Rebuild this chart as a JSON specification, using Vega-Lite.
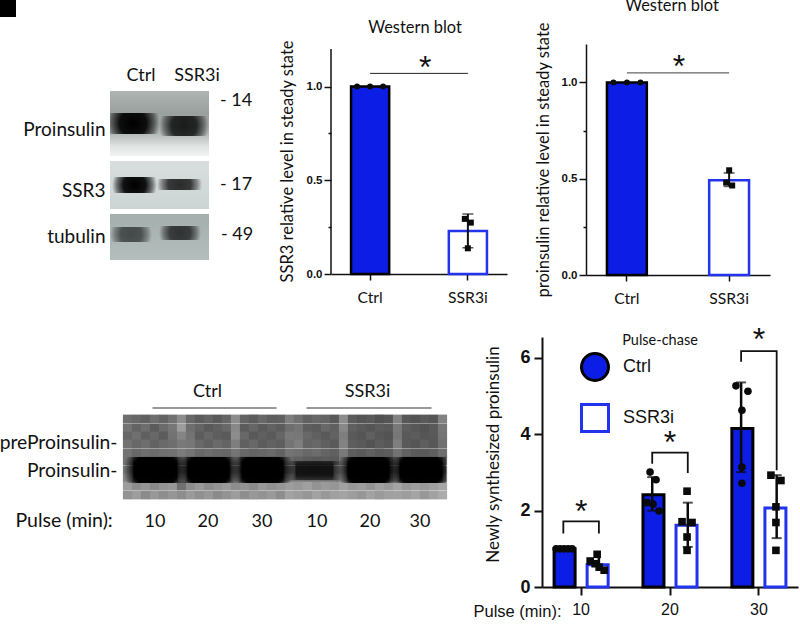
{"$schema":"https://vega.github.io/schema/vega-lite/v6.json","autosize":{"type":"none"},"padding":{"left":110,"top":44,"right":690,"bottom":581},"background":"white","config":{"view":{"stroke":null},"axis":{"grid":false,"labelColor":"#111","titleColor":"#111","domainColor":"#111","tickColor":"#111"},"text":{"color":"#111"}},"spacing":17,"resolve":{"scale":{"fill":"independent","stroke":"independent","shape":"independent"}},"vconcat":[{"bounds":"flush","spacing":0,"resolve":{"scale":{"fill":"independent","stroke":"independent","shape":"independent"}},"hconcat":[{"width":99,"height":216,"layer":[{"data":{"values":[{"blot":"Proinsulin","a":0,"b":99,"t":-1,"u":64}]},"mark":{"type":"rect","color":{"gradient":"linear","x1":0,"y1":0,"x2":0,"y2":1,"stops":[{"offset":0,"color":"#aeb4b2"},{"offset":0.35,"color":"#9aa09e"},{"offset":0.65,"color":"#b2b8b6"},{"offset":0.85,"color":"#dfe3e1"},{"offset":1,"color":"#f1f3f2"}]}},"encoding":{"x":{"field":"a","type":"quantitative","scale":{"domain":[0,99],"nice":false},"axis":{"values":[],"domain":false,"ticks":false,"labels":false,"title":null}},"x2":{"field":"b"},"y":{"field":"t","type":"quantitative","scale":{"domain":[-48,168],"reverse":true,"nice":false},"axis":{"values":[37,98,144],"labelExpr":"datum.value==37?'Proinsulin':datum.value==98?'SSR3':'tubulin'","domain":false,"ticks":false,"title":null,"labelFont":"Lato","labelFontSize":19,"labelPadding":5}},"y2":{"field":"u"}}},{"data":{"values":[{"blot":"SSR3","a":0,"b":99,"t":69,"u":117}]},"mark":{"type":"rect","color":{"gradient":"linear","x1":0,"y1":0,"x2":0,"y2":1,"stops":[{"offset":0,"color":"#d8dede"},{"offset":1,"color":"#ccd4d4"}]}},"encoding":{"x":{"field":"a","type":"quantitative"},"x2":{"field":"b"},"y":{"field":"t","type":"quantitative"},"y2":{"field":"u"}}},{"data":{"values":[{"blot":"tubulin","a":0,"b":99,"t":122,"u":168}]},"mark":{"type":"rect","color":{"gradient":"linear","x1":0,"y1":0,"x2":0,"y2":1,"stops":[{"offset":0,"color":"#a4aead"},{"offset":1,"color":"#b4bebd"}]}},"encoding":{"x":{"field":"a","type":"quantitative"},"x2":{"field":"b"},"y":{"field":"t","type":"quantitative"},"y2":{"field":"u"}}},{"data":{"values":[{"blot":"Proinsulin","lane":"Ctrl","a":-4,"b":50,"t":21,"u":42,"o":1},{"blot":"Proinsulin","lane":"SSR3i","a":49,"b":99,"t":24,"u":44,"o":0.85},{"blot":"SSR3","lane":"Ctrl","a":2,"b":47,"t":85,"u":101,"o":1},{"blot":"SSR3","lane":"SSR3i","a":47,"b":92,"t":87,"u":98,"o":0.8},{"blot":"tubulin","lane":"Ctrl","a":0,"b":42,"t":135,"u":150,"o":0.6},{"blot":"tubulin","lane":"SSR3i","a":49,"b":91,"t":134,"u":148,"o":0.72}]},"mark":{"type":"rect","clip":true,"color":{"gradient":"radial","x1":0.5,"y1":0.5,"r1":0,"x2":0.5,"y2":0.5,"r2":0.5,"stops":[{"offset":0,"color":"rgba(0,0,0,1)"},{"offset":0.5,"color":"rgba(0,0,0,0.92)"},{"offset":0.8,"color":"rgba(0,0,0,0.45)"},{"offset":1,"color":"rgba(0,0,0,0)"}]}},"encoding":{"x":{"field":"a","type":"quantitative"},"x2":{"field":"b"},"y":{"field":"t","type":"quantitative"},"y2":{"field":"u"},"opacity":{"field":"o","type":"quantitative","scale":null}}},{"data":{"values":[{"mw":"- 14","a":110,"t":9},{"mw":"- 17","a":110,"t":93},{"mw":"- 49","a":111,"t":143}]},"mark":{"type":"text","font":"Lato","fontSize":18,"align":"left","baseline":"middle"},"encoding":{"x":{"field":"a","type":"quantitative"},"y":{"field":"t","type":"quantitative"},"text":{"field":"mw"}}},{"data":{"values":[{"lane":"Ctrl","a":31,"t":-16},{"lane":"SSR3i","a":87,"t":-16}]},"mark":{"type":"text","font":"Lato","fontSize":18,"baseline":"middle"},"encoding":{"x":{"field":"a","type":"quantitative"},"y":{"field":"t","type":"quantitative"},"text":{"field":"lane"}}},{"data":{"values":[{"a":-110,"b":-94,"t":-92,"u":-75}]},"mark":{"type":"rect","color":"black"},"encoding":{"x":{"field":"a","type":"quantitative"},"x2":{"field":"b"},"y":{"field":"t","type":"quantitative"},"y2":{"field":"u"}}}]},{"width":122,"height":1,"data":{"values":[]},"mark":{"type":"point","opacity":0},"encoding":{}},{"width":176,"height":230,"title":{"text":"Western blot","font":"Lato","fontWeight":"normal","fontSize":16.4,"dx":-4,"offset":3,"frame":"group","color":"#111"},"layer":[{"data":{"values":[{"group":"Ctrl","level":1.0},{"group":"SSR3i","level":0.23}]},"mark":{"type":"bar","strokeWidth":2.5},"encoding":{"x":{"field":"group","type":"nominal","sort":null,"scale":{"domain":["Ctrl","SSR3i"],"paddingInner":0.61,"paddingOuter":0.205},"axis":{"title":null,"labelAngle":0,"labelFont":"Lato","labelFontSize":15.7,"labelPadding":10,"tickSize":6,"tickWidth":1.5,"domainWidth":1.5}},"y":{"field":"level","type":"quantitative","scale":{"domain":[0,1.2267],"nice":false},"axis":{"title":"SSR3 relative level in steady state","titleFont":"Lato","titleFontSize":16.5,"titleFontWeight":"normal","titlePadding":11,"titleY":117,"domain":false,"values":[0,0.25,0.5,0.75,1],"labelExpr":"datum.value==0.25||datum.value==0.75?'':format(datum.value,'.1f')","labelFont":"Liberation Sans","labelFontWeight":"bold","labelFontSize":11.5,"labelPadding":2,"tickWidth":1.5,"tickSize":{"condition":{"test":"datum.value==0.25||datum.value==0.75","value":3},"value":7}}},"fill":{"field":"group","type":"nominal","scale":{"domain":["Ctrl","SSR3i"],"range":["#0c1ee6","#ffffff"]},"legend":null},"stroke":{"field":"group","type":"nominal","scale":{"domain":["Ctrl","SSR3i"],"range":["#000000","#2233ee"]},"legend":null}}},{"data":{"values":[{"line":"y axis","low":0,"high":1.2}]},"mark":{"type":"rule","color":"#111","strokeWidth":1.5},"encoding":{"x":{"value":0},"y":{"field":"low","type":"quantitative"},"y2":{"field":"high"}}},{"data":{"values":[{"group":"SSR3i","low":0.14,"high":0.32}]},"mark":{"type":"rule","color":"#111","strokeWidth":2},"encoding":{"x":{"field":"group","type":"nominal"},"y":{"field":"low","type":"quantitative"},"y2":{"field":"high"}}},{"data":{"values":[{"group":"SSR3i","cap":0.32},{"group":"SSR3i","cap":0.14}]},"mark":{"type":"tick","color":"#111","thickness":1.5,"size":11},"encoding":{"x":{"field":"group","type":"nominal"},"y":{"field":"cap","type":"quantitative"}}},{"data":{"values":[{"group":"Ctrl","value":1,"dodge":-13},{"group":"Ctrl","value":1,"dodge":0},{"group":"Ctrl","value":1,"dodge":13},{"group":"SSR3i","value":0.294,"dodge":-3},{"group":"SSR3i","value":0.274,"dodge":3},{"group":"SSR3i","value":0.137,"dodge":0}]},"mark":{"type":"point","filled":true,"opacity":1,"color":"#0a0a0a","size":36},"encoding":{"x":{"field":"group","type":"nominal"},"xOffset":{"field":"dodge","type":"quantitative","scale":{"domain":[-40,40],"range":[-21,59]}},"y":{"field":"value","type":"quantitative"},"shape":{"field":"group","type":"nominal","scale":{"domain":["Ctrl","SSR3i"],"range":["circle","square"]},"legend":null}}},{"data":{"values":[{"from":"Ctrl","to":"SSR3i","y":1.07}]},"mark":{"type":"rule","color":"#222","strokeWidth":1},"encoding":{"x":{"field":"from","type":"nominal"},"x2":{"field":"to"},"y":{"field":"y","type":"quantitative"}}},{"data":{"values":[{"from":"Ctrl","y":1.128,"star":"*"}]},"mark":{"type":"text","font":"Liberation Sans","fontSize":32,"dx":55,"dy":5},"encoding":{"x":{"field":"from","type":"nominal"},"y":{"field":"y","type":"quantitative"},"text":{"field":"star"}}}],"resolve":{"scale":{"xOffset":"independent"}}},{"width":79,"height":1,"data":{"values":[]},"mark":{"type":"point","opacity":0},"encoding":{}},{"width":184,"height":231,"title":{"text":"Western blot","font":"Lato","fontWeight":"normal","fontSize":16.4,"dx":-6,"offset":7,"frame":"group","color":"#111"},"layer":[{"data":{"values":[{"group":"Ctrl","level":1.0},{"group":"SSR3i","level":0.492}]},"mark":{"type":"bar","strokeWidth":2.5},"encoding":{"x":{"field":"group","type":"nominal","sort":null,"scale":{"domain":["Ctrl","SSR3i"],"paddingInner":0.61,"paddingOuter":0.205},"axis":{"title":null,"labelAngle":0,"labelFont":"Lato","labelFontSize":15.7,"labelPadding":10,"tickSize":6,"tickWidth":1.5,"domainWidth":1.5}},"y":{"field":"level","type":"quantitative","scale":{"domain":[0,1.2],"nice":false},"axis":{"title":"proinsulin relative level in steady state","titleFont":"Lato","titleFontSize":16.5,"titleFontWeight":"normal","titlePadding":10,"values":[0,0.25,0.5,0.75,1],"labelExpr":"datum.value==0.25||datum.value==0.75?'':format(datum.value,'.1f')","labelFont":"Liberation Sans","labelFontWeight":"bold","labelFontSize":11.5,"labelPadding":2,"tickWidth":1.5,"domainWidth":1.5,"tickSize":{"condition":{"test":"datum.value==0.25||datum.value==0.75","value":3},"value":7}}},"fill":{"field":"group","type":"nominal","scale":{"domain":["Ctrl","SSR3i"],"range":["#0c1ee6","#ffffff"]},"legend":null},"stroke":{"field":"group","type":"nominal","scale":{"domain":["Ctrl","SSR3i"],"range":["#000000","#2233ee"]},"legend":null}}},{"data":{"values":[{"group":"SSR3i","low":0.46,"high":0.53}]},"mark":{"type":"rule","color":"#111","strokeWidth":2},"encoding":{"x":{"field":"group","type":"nominal"},"y":{"field":"low","type":"quantitative"},"y2":{"field":"high"}}},{"data":{"values":[{"group":"SSR3i","cap":0.53},{"group":"SSR3i","cap":0.46}]},"mark":{"type":"tick","color":"#111","thickness":1.5,"size":11},"encoding":{"x":{"field":"group","type":"nominal"},"y":{"field":"cap","type":"quantitative"}}},{"data":{"values":[{"group":"Ctrl","value":1,"dodge":-13.5},{"group":"Ctrl","value":1,"dodge":0},{"group":"Ctrl","value":1,"dodge":13.5},{"group":"SSR3i","value":0.544,"dodge":0},{"group":"SSR3i","value":0.48,"dodge":-3},{"group":"SSR3i","value":0.465,"dodge":3}]},"mark":{"type":"point","filled":true,"opacity":1,"color":"#0a0a0a","size":36},"encoding":{"x":{"field":"group","type":"nominal"},"xOffset":{"field":"dodge","type":"quantitative","scale":{"domain":[-40,40],"range":[-20,60]}},"y":{"field":"value","type":"quantitative"},"shape":{"field":"group","type":"nominal","scale":{"domain":["Ctrl","SSR3i"],"range":["circle","square"]},"legend":null}}},{"data":{"values":[{"from":"Ctrl","to":"SSR3i","y":1.05}]},"mark":{"type":"rule","color":"#666","strokeWidth":1.2},"encoding":{"x":{"field":"from","type":"nominal"},"x2":{"field":"to"},"y":{"field":"y","type":"quantitative"}}},{"data":{"values":[{"from":"Ctrl","y":1.105,"star":"*"}]},"mark":{"type":"text","font":"Liberation Sans","fontSize":32,"dx":52,"dy":5},"encoding":{"x":{"field":"from","type":"nominal"},"y":{"field":"y","type":"quantitative"},"text":{"field":"star"}}}],"resolve":{"scale":{"xOffset":"independent"}}}]},{"bounds":"flush","spacing":0,"resolve":{"scale":{"fill":"independent","stroke":"independent","shape":"independent"}},"hconcat":[{"width":13,"height":1,"data":{"values":[]},"mark":{"type":"point","opacity":0},"encoding":{}},{"width":323,"height":162,"layer":[{"data":{"values":[{"x":4,"m":4,"t":118},{"x":13,"m":4,"t":112},{"x":22,"m":4,"t":105},{"x":31,"m":4,"t":118},{"x":40,"m":4,"t":108},{"x":49,"m":4,"t":122},{"x":58,"m":4,"t":150},{"x":67,"m":4,"t":112},{"x":76,"m":4,"t":100},{"x":85,"m":4,"t":108},{"x":94,"m":4,"t":98},{"x":103,"m":4,"t":110},{"x":112,"m":4,"t":150},{"x":121,"m":4,"t":108},{"x":130,"m":4,"t":100},{"x":139,"m":4,"t":112},{"x":148,"m":4,"t":102},{"x":157,"m":4,"t":104},{"x":166,"m":4,"t":135},{"x":175,"m":4,"t":120},{"x":184,"m":4,"t":105},{"x":193,"m":4,"t":112},{"x":202,"m":4,"t":108},{"x":211,"m":4,"t":96},{"x":220,"m":4,"t":150},{"x":229,"m":4,"t":100},{"x":238,"m":4,"t":92},{"x":247,"m":4,"t":96},{"x":256,"m":4,"t":88},{"x":265,"m":4,"t":92},{"x":274,"m":4,"t":140},{"x":283,"m":4,"t":95},{"x":292,"m":4,"t":90},{"x":301,"m":4,"t":98},{"x":310,"m":4,"t":92},{"x":319,"m":4,"t":140},{"x":4,"m":13,"t":125},{"x":13,"m":13,"t":108},{"x":22,"m":13,"t":118},{"x":31,"m":13,"t":100},{"x":40,"m":13,"t":115},{"x":49,"m":13,"t":128},{"x":58,"m":13,"t":165},{"x":67,"m":13,"t":118},{"x":76,"m":13,"t":108},{"x":85,"m":13,"t":96},{"x":94,"m":13,"t":104},{"x":103,"m":13,"t":112},{"x":112,"m":13,"t":145},{"x":121,"m":13,"t":100},{"x":130,"m":13,"t":110},{"x":139,"m":13,"t":98},{"x":148,"m":13,"t":106},{"x":157,"m":13,"t":100},{"x":166,"m":13,"t":118},{"x":175,"m":13,"t":125},{"x":184,"m":13,"t":102},{"x":193,"m":13,"t":98},{"x":202,"m":13,"t":112},{"x":211,"m":13,"t":104},{"x":220,"m":13,"t":145},{"x":229,"m":13,"t":104},{"x":238,"m":13,"t":98},{"x":247,"m":13,"t":92},{"x":256,"m":13,"t":100},{"x":265,"m":13,"t":96},{"x":274,"m":13,"t":130},{"x":283,"m":13,"t":102},{"x":292,"m":13,"t":94},{"x":301,"m":13,"t":90},{"x":310,"m":13,"t":98},{"x":319,"m":13,"t":128},{"x":4,"m":21,"t":110},{"x":13,"m":21,"t":120},{"x":22,"m":21,"t":104},{"x":31,"m":21,"t":112},{"x":40,"m":21,"t":100},{"x":49,"m":21,"t":122},{"x":58,"m":21,"t":142},{"x":67,"m":21,"t":124},{"x":76,"m":21,"t":100},{"x":85,"m":21,"t":110},{"x":94,"m":21,"t":102},{"x":103,"m":21,"t":98},{"x":112,"m":21,"t":150},{"x":121,"m":21,"t":112},{"x":130,"m":21,"t":96},{"x":139,"m":21,"t":104},{"x":148,"m":21,"t":98},{"x":157,"m":21,"t":110},{"x":166,"m":21,"t":130},{"x":175,"m":21,"t":128},{"x":184,"m":21,"t":112},{"x":193,"m":21,"t":104},{"x":202,"m":21,"t":96},{"x":211,"m":21,"t":106},{"x":220,"m":21,"t":135},{"x":229,"m":21,"t":98},{"x":238,"m":21,"t":92},{"x":247,"m":21,"t":104},{"x":256,"m":21,"t":94},{"x":265,"m":21,"t":90},{"x":274,"m":21,"t":128},{"x":283,"m":21,"t":96},{"x":292,"m":21,"t":100},{"x":301,"m":21,"t":92},{"x":310,"m":21,"t":96},{"x":319,"m":21,"t":125},{"x":4,"m":29,"t":122},{"x":13,"m":29,"t":112},{"x":22,"m":29,"t":118},{"x":31,"m":29,"t":106},{"x":40,"m":29,"t":114},{"x":49,"m":29,"t":118},{"x":58,"m":29,"t":130},{"x":67,"m":29,"t":128},{"x":76,"m":29,"t":112},{"x":85,"m":29,"t":104},{"x":94,"m":29,"t":114},{"x":103,"m":29,"t":108},{"x":112,"m":29,"t":135},{"x":121,"m":29,"t":104},{"x":130,"m":29,"t":112},{"x":139,"m":29,"t":100},{"x":148,"m":29,"t":106},{"x":157,"m":29,"t":102},{"x":166,"m":29,"t":125},{"x":175,"m":29,"t":135},{"x":184,"m":29,"t":108},{"x":193,"m":29,"t":112},{"x":202,"m":29,"t":104},{"x":211,"m":29,"t":98},{"x":220,"m":29,"t":140},{"x":229,"m":29,"t":102},{"x":238,"m":29,"t":96},{"x":247,"m":29,"t":90},{"x":256,"m":29,"t":100},{"x":265,"m":29,"t":94},{"x":274,"m":29,"t":135},{"x":283,"m":29,"t":98},{"x":292,"m":29,"t":92},{"x":301,"m":29,"t":102},{"x":310,"m":29,"t":94},{"x":319,"m":29,"t":120},{"x":4,"m":38,"t":125},{"x":13,"m":38,"t":112},{"x":22,"m":38,"t":118},{"x":31,"m":38,"t":115},{"x":40,"m":38,"t":120},{"x":49,"m":38,"t":122},{"x":58,"m":38,"t":132},{"x":67,"m":38,"t":125},{"x":76,"m":38,"t":112},{"x":85,"m":38,"t":116},{"x":94,"m":38,"t":112},{"x":103,"m":38,"t":110},{"x":112,"m":38,"t":125},{"x":121,"m":38,"t":112},{"x":130,"m":38,"t":108},{"x":139,"m":38,"t":110},{"x":148,"m":38,"t":114},{"x":157,"m":38,"t":106},{"x":166,"m":38,"t":125},{"x":175,"m":38,"t":120},{"x":184,"m":38,"t":112},{"x":193,"m":38,"t":116},{"x":202,"m":38,"t":108},{"x":211,"m":38,"t":104},{"x":220,"m":38,"t":130},{"x":229,"m":38,"t":102},{"x":238,"m":38,"t":98},{"x":247,"m":38,"t":104},{"x":256,"m":38,"t":98},{"x":265,"m":38,"t":100},{"x":274,"m":38,"t":122},{"x":283,"m":38,"t":106},{"x":292,"m":38,"t":98},{"x":301,"m":38,"t":96},{"x":310,"m":38,"t":102},{"x":319,"m":38,"t":118},{"x":4,"m":46,"t":125},{"x":13,"m":46,"t":110},{"x":22,"m":46,"t":105},{"x":31,"m":46,"t":100},{"x":40,"m":46,"t":95},{"x":49,"m":46,"t":100},{"x":58,"m":46,"t":118},{"x":67,"m":46,"t":100},{"x":76,"m":46,"t":92},{"x":85,"m":46,"t":90},{"x":94,"m":46,"t":95},{"x":103,"m":46,"t":100},{"x":112,"m":46,"t":118},{"x":121,"m":46,"t":90},{"x":130,"m":46,"t":92},{"x":139,"m":46,"t":95},{"x":148,"m":46,"t":90},{"x":157,"m":46,"t":95},{"x":166,"m":46,"t":112},{"x":175,"m":46,"t":105},{"x":184,"m":46,"t":100},{"x":193,"m":46,"t":95},{"x":202,"m":46,"t":100},{"x":211,"m":46,"t":98},{"x":220,"m":46,"t":125},{"x":229,"m":46,"t":100},{"x":238,"m":46,"t":90},{"x":247,"m":46,"t":88},{"x":256,"m":46,"t":92},{"x":265,"m":46,"t":90},{"x":274,"m":46,"t":115},{"x":283,"m":46,"t":90},{"x":292,"m":46,"t":92},{"x":301,"m":46,"t":88},{"x":310,"m":46,"t":90},{"x":319,"m":46,"t":110},{"x":4,"m":55,"t":130},{"x":13,"m":55,"t":112},{"x":22,"m":55,"t":100},{"x":31,"m":55,"t":100},{"x":40,"m":55,"t":95},{"x":49,"m":55,"t":105},{"x":58,"m":55,"t":125},{"x":67,"m":55,"t":100},{"x":76,"m":55,"t":90},{"x":85,"m":55,"t":92},{"x":94,"m":55,"t":90},{"x":103,"m":55,"t":100},{"x":112,"m":55,"t":125},{"x":121,"m":55,"t":95},{"x":130,"m":55,"t":90},{"x":139,"m":55,"t":92},{"x":148,"m":55,"t":90},{"x":157,"m":55,"t":92},{"x":166,"m":55,"t":105},{"x":175,"m":55,"t":115},{"x":184,"m":55,"t":110},{"x":193,"m":55,"t":108},{"x":202,"m":55,"t":112},{"x":211,"m":55,"t":110},{"x":220,"m":55,"t":130},{"x":229,"m":55,"t":100},{"x":238,"m":55,"t":92},{"x":247,"m":55,"t":90},{"x":256,"m":55,"t":90},{"x":265,"m":55,"t":92},{"x":274,"m":55,"t":118},{"x":283,"m":55,"t":92},{"x":292,"m":55,"t":90},{"x":301,"m":55,"t":90},{"x":310,"m":55,"t":92},{"x":319,"m":55,"t":112},{"x":4,"m":63,"t":140},{"x":13,"m":63,"t":125},{"x":22,"m":63,"t":122},{"x":31,"m":63,"t":118},{"x":40,"m":63,"t":120},{"x":49,"m":63,"t":122},{"x":58,"m":63,"t":140},{"x":67,"m":63,"t":115},{"x":76,"m":63,"t":112},{"x":85,"m":63,"t":110},{"x":94,"m":63,"t":114},{"x":103,"m":63,"t":112},{"x":112,"m":63,"t":138},{"x":121,"m":63,"t":116},{"x":130,"m":63,"t":112},{"x":139,"m":63,"t":114},{"x":148,"m":63,"t":110},{"x":157,"m":63,"t":112},{"x":166,"m":63,"t":128},{"x":175,"m":63,"t":128},{"x":184,"m":63,"t":124},{"x":193,"m":63,"t":126},{"x":202,"m":63,"t":122},{"x":211,"m":63,"t":124},{"x":220,"m":63,"t":140},{"x":229,"m":63,"t":114},{"x":238,"m":63,"t":110},{"x":247,"m":63,"t":112},{"x":256,"m":63,"t":110},{"x":265,"m":63,"t":114},{"x":274,"m":63,"t":135},{"x":283,"m":63,"t":112},{"x":292,"m":63,"t":110},{"x":301,"m":63,"t":112},{"x":310,"m":63,"t":114},{"x":319,"m":63,"t":128},{"x":4,"m":71,"t":165},{"x":13,"m":71,"t":150},{"x":22,"m":71,"t":158},{"x":31,"m":71,"t":145},{"x":40,"m":71,"t":155},{"x":49,"m":71,"t":160},{"x":58,"m":71,"t":120},{"x":67,"m":71,"t":150},{"x":76,"m":71,"t":160},{"x":85,"m":71,"t":148},{"x":94,"m":71,"t":155},{"x":103,"m":71,"t":162},{"x":112,"m":71,"t":150},{"x":121,"m":71,"t":155},{"x":130,"m":71,"t":148},{"x":139,"m":71,"t":160},{"x":148,"m":71,"t":152},{"x":157,"m":71,"t":158},{"x":166,"m":71,"t":165},{"x":175,"m":71,"t":160},{"x":184,"m":71,"t":168},{"x":193,"m":71,"t":155},{"x":202,"m":71,"t":162},{"x":211,"m":71,"t":158},{"x":220,"m":71,"t":170},{"x":229,"m":71,"t":160},{"x":238,"m":71,"t":165},{"x":247,"m":71,"t":155},{"x":256,"m":71,"t":168},{"x":265,"m":71,"t":160},{"x":274,"m":71,"t":172},{"x":283,"m":71,"t":158},{"x":292,"m":71,"t":165},{"x":301,"m":71,"t":160},{"x":310,"m":71,"t":168},{"x":319,"m":71,"t":175},{"x":4,"m":80,"t":155},{"x":13,"m":80,"t":165},{"x":22,"m":80,"t":148},{"x":31,"m":80,"t":160},{"x":40,"m":80,"t":150},{"x":49,"m":80,"t":158},{"x":58,"m":80,"t":150},{"x":67,"m":80,"t":162},{"x":76,"m":80,"t":152},{"x":85,"m":80,"t":160},{"x":94,"m":80,"t":148},{"x":103,"m":80,"t":155},{"x":112,"m":80,"t":165},{"x":121,"m":80,"t":150},{"x":130,"m":80,"t":160},{"x":139,"m":80,"t":155},{"x":148,"m":80,"t":162},{"x":157,"m":80,"t":150},{"x":166,"m":80,"t":170},{"x":175,"m":80,"t":165},{"x":184,"m":80,"t":158},{"x":193,"m":80,"t":170},{"x":202,"m":80,"t":160},{"x":211,"m":80,"t":168},{"x":220,"m":80,"t":172},{"x":229,"m":80,"t":165},{"x":238,"m":80,"t":158},{"x":247,"m":80,"t":170},{"x":256,"m":80,"t":162},{"x":265,"m":80,"t":168},{"x":274,"m":80,"t":170},{"x":283,"m":80,"t":165},{"x":292,"m":80,"t":172},{"x":301,"m":80,"t":160},{"x":310,"m":80,"t":170},{"x":319,"m":80,"t":178}]},"mark":{"type":"rect","width":9.2,"height":8.8},"encoding":{"x":{"field":"x","type":"quantitative","scale":{"domain":[-0.5,322.5],"nice":false,"zero":false},"axis":{"orient":"bottom","values":[31,84,138,193,246,296],"labelExpr":"datum.value<60?'10':datum.value<100?'20':datum.value<150?'30':datum.value<220?'10':datum.value<270?'20':'30'","domain":false,"ticks":false,"title":"Pulse (min):","titleFont":"Lato","titleFontSize":19.5,"titleFontWeight":"normal","titleAlign":"left","titleBaseline":"alphabetic","titleAnchor":"start","titleX":-108,"titleY":27,"labelFont":"Lato","labelFontSize":18,"labelPadding":13}},"y":{"field":"m","type":"quantitative","scale":{"domain":[-78,84],"reverse":true,"nice":false},"axis":{"values":[27,55],"labelExpr":"datum.value==27?'preProinsulin-':'Proinsulin-'","domain":false,"ticks":false,"title":null,"labelFont":"Lato","labelFontSize":19.3,"labelPadding":6}},"fill":{"field":"t","type":"quantitative","scale":{"domain":[0,255],"range":["#000000","#ffffff"]},"legend":null}}},{"data":{"values":[{"lane":"Ctrl 10","a":0,"b":64,"t":42,"u":68,"o":1},{"lane":"Ctrl 20","a":54,"b":116,"t":42,"u":68,"o":1},{"lane":"Ctrl 30","a":108,"b":170,"t":42,"u":68,"o":1},{"lane":"SSR3i 10","a":162,"b":220,"t":46,"u":65,"o":0.6},{"lane":"SSR3i 20","a":214,"b":276,"t":42,"u":68,"o":1},{"lane":"SSR3i 30","a":266,"b":329,"t":42,"u":68,"o":1}]},"mark":{"type":"rect","clip":true,"color":{"gradient":"radial","x1":0.5,"y1":0.5,"r1":0,"x2":0.5,"y2":0.5,"r2":0.5,"stops":[{"offset":0,"color":"rgba(0,0,0,1)"},{"offset":0.65,"color":"rgba(0,0,0,0.97)"},{"offset":1,"color":"rgba(0,0,0,0)"}]}},"encoding":{"x":{"field":"a","type":"quantitative"},"x2":{"field":"b"},"y":{"field":"t","type":"quantitative"},"y2":{"field":"u"},"opacity":{"field":"o","type":"quantitative","scale":null}}},{"data":{"values":[{"lane":"Ctrl 10","a":10,"b":54,"t":42,"u":68,"o":1},{"lane":"Ctrl 20","a":64,"b":106,"t":42,"u":68,"o":1},{"lane":"Ctrl 30","a":118,"b":160,"t":42,"u":68,"o":1},{"lane":"SSR3i 10","a":172,"b":210,"t":46,"u":65,"o":0.6},{"lane":"SSR3i 20","a":224,"b":266,"t":42,"u":68,"o":1},{"lane":"SSR3i 30","a":276,"b":319,"t":42,"u":68,"o":1}]},"mark":{"type":"rect","color":{"gradient":"linear","x1":0,"y1":0,"x2":0,"y2":1,"stops":[{"offset":0,"color":"rgba(0,0,0,0)"},{"offset":0.25,"color":"rgba(0,0,0,0.97)"},{"offset":0.75,"color":"rgba(0,0,0,0.97)"},{"offset":1,"color":"rgba(0,0,0,0)"}]}},"encoding":{"x":{"field":"a","type":"quantitative"},"x2":{"field":"b"},"y":{"field":"t","type":"quantitative"},"y2":{"field":"u"},"opacity":{"field":"o","type":"quantitative","scale":null}}},{"data":{"values":[{"group":"Ctrl","a":29,"b":153,"m":-7}]},"mark":{"type":"rule","strokeWidth":1.2,"color":"#333333"},"encoding":{"x":{"field":"a","type":"quantitative"},"x2":{"field":"b"},"y":{"field":"m","type":"quantitative"}}},{"data":{"values":[{"group":"SSR3i","a":183,"b":308,"m":-7}]},"mark":{"type":"rule","strokeWidth":1.6,"color":"#777777"},"encoding":{"x":{"field":"a","type":"quantitative"},"x2":{"field":"b"},"y":{"field":"m","type":"quantitative"}}},{"data":{"values":[{"group":"Ctrl","a":84,"m":-23},{"group":"SSR3i","a":244,"m":-23}]},"mark":{"type":"text","font":"Lato","fontSize":18},"encoding":{"x":{"field":"a","type":"quantitative"},"y":{"field":"m","type":"quantitative"},"text":{"field":"group"}}}]},{"width":96,"height":1,"data":{"values":[]},"mark":{"type":"point","opacity":0},"encoding":{}},{"width":256,"height":250,"layer":[{"data":{"values":[{"pulse":"10","group":"Ctrl","level":1.0},{"pulse":"10","group":"SSR3i","level":0.585},{"pulse":"20","group":"Ctrl","level":2.42},{"pulse":"20","group":"SSR3i","level":1.62},{"pulse":"30","group":"Ctrl","level":4.15},{"pulse":"30","group":"SSR3i","level":2.07}]},"mark":{"type":"bar","strokeWidth":3},"encoding":{"x":{"field":"pulse","type":"nominal","scale":{"domain":["10","20","30"],"paddingInner":0.2,"paddingOuter":0.04},"axis":{"labelAngle":0,"title":"Pulse  (min):","titleFont":"Liberation Sans","titleFontSize":16.5,"titleFontWeight":"normal","titleAlign":"left","titleBaseline":"alphabetic","titleAnchor":"start","titleX":-69,"titleY":29,"labelFont":"Liberation Sans","labelFontSize":16,"labelPadding":6,"tickSize":8,"tickWidth":2,"domainWidth":2}},"xOffset":{"field":"group","type":"nominal","scale":{"domain":["Ctrl","SSR3i"],"paddingInner":0.364,"paddingOuter":0.258}},"y":{"field":"level","type":"quantitative","scale":{"domain":[0,6.55],"nice":false},"axis":{"title":"Newly synthesized proinsulin","titleFont":"Lato","titleFontSize":17,"titleFontWeight":"normal","titleY":117,"titlePadding":17,"values":[0,2,4,6],"format":"d","labelFont":"Liberation Sans","labelFontWeight":"bold","labelFontSize":18,"labelPadding":4,"tickSize":8,"tickWidth":2,"domainWidth":2}},"fill":{"field":"group","type":"nominal","title":null,"scale":{"domain":["Ctrl","SSR3i"],"range":["#0c1ee6","#ffffff"]},"legend":{"orient":"none","legendX":38,"legendY":15,"symbolType":"M-1,-0.33H1V0.33H-1Z","symbolSize":729,"symbolStrokeWidth":3,"labelFont":"Liberation Sans","labelFontSize":18,"labelOffset":13,"labelColor":"#111","rowPadding":11,"encoding":{"symbols":{"update":{"shape":{"value":"M-1,-0.33H1V0.33H-1Z"},"stroke":{"signal":"datum.value=='Ctrl'?'#000000':'#2233ee'"},"strokeWidth":{"value":3}}}}}},"stroke":{"field":"group","type":"nominal","title":null,"scale":{"domain":["Ctrl","SSR3i"],"range":["#000000","#2233ee"]},"legend":null}}},{"data":{"values":[{"pulse":"20","group":"Ctrl","low":2.0,"high":2.88},{"pulse":"20","group":"SSR3i","low":1.05,"high":2.21},{"pulse":"30","group":"Ctrl","low":3.01,"high":5.36},{"pulse":"30","group":"SSR3i","low":1.28,"high":2.93},{"pulse":"10","group":"SSR3i","low":0.42,"high":0.78}]},"mark":{"type":"rule","color":"#0a0a0a","strokeWidth":2.5},"encoding":{"x":{"field":"pulse","type":"nominal"},"xOffset":{"field":"group","type":"nominal"},"y":{"field":"low","type":"quantitative"},"y2":{"field":"high"}}},{"data":{"values":[{"pulse":"20","group":"Ctrl","cap":2.0},{"pulse":"20","group":"Ctrl","cap":2.88},{"pulse":"20","group":"SSR3i","cap":1.05},{"pulse":"20","group":"SSR3i","cap":2.21},{"pulse":"30","group":"Ctrl","cap":3.01},{"pulse":"30","group":"Ctrl","cap":5.36},{"pulse":"30","group":"SSR3i","cap":1.28},{"pulse":"30","group":"SSR3i","cap":2.93}]},"mark":{"type":"tick","color":"#0a0a0a","thickness":2,"size":10},"encoding":{"x":{"field":"pulse","type":"nominal"},"xOffset":{"field":"group","type":"nominal"},"y":{"field":"cap","type":"quantitative"}}},{"data":{"values":[{"pulse":"10","group":"Ctrl","value":1,"dodge":-25},{"pulse":"10","group":"Ctrl","value":1,"dodge":-21},{"pulse":"10","group":"Ctrl","value":1,"dodge":-17},{"pulse":"10","group":"Ctrl","value":1,"dodge":-13},{"pulse":"10","group":"Ctrl","value":1,"dodge":-9},{"pulse":"10","group":"SSR3i","value":0.856,"dodge":16},{"pulse":"10","group":"SSR3i","value":0.68,"dodge":9},{"pulse":"10","group":"SSR3i","value":0.61,"dodge":14},{"pulse":"10","group":"SSR3i","value":0.52,"dodge":18},{"pulse":"10","group":"SSR3i","value":0.44,"dodge":23},{"pulse":"20","group":"Ctrl","value":3.01,"dodge":-20},{"pulse":"20","group":"Ctrl","value":2.81,"dodge":-14},{"pulse":"20","group":"Ctrl","value":2.21,"dodge":-23},{"pulse":"20","group":"Ctrl","value":2.17,"dodge":-17},{"pulse":"20","group":"Ctrl","value":1.99,"dodge":-11},{"pulse":"20","group":"SSR3i","value":2.51,"dodge":17},{"pulse":"20","group":"SSR3i","value":1.71,"dodge":12},{"pulse":"20","group":"SSR3i","value":1.69,"dodge":22},{"pulse":"20","group":"SSR3i","value":1.31,"dodge":17},{"pulse":"20","group":"SSR3i","value":0.96,"dodge":17},{"pulse":"30","group":"Ctrl","value":5.27,"dodge":-23},{"pulse":"30","group":"Ctrl","value":5.13,"dodge":-11},{"pulse":"30","group":"Ctrl","value":4.63,"dodge":-17},{"pulse":"30","group":"Ctrl","value":3.14,"dodge":-17},{"pulse":"30","group":"Ctrl","value":2.72,"dodge":-17},{"pulse":"30","group":"SSR3i","value":2.93,"dodge":12},{"pulse":"30","group":"SSR3i","value":2.79,"dodge":22},{"pulse":"30","group":"SSR3i","value":2.1,"dodge":17},{"pulse":"30","group":"SSR3i","value":1.69,"dodge":17},{"pulse":"30","group":"SSR3i","value":0.96,"dodge":17}]},"mark":{"type":"point","filled":true,"opacity":1,"color":"#0a0a0a","size":58},"encoding":{"x":{"field":"pulse","type":"nominal"},"xOffset":{"field":"dodge","type":"quantitative","scale":{"domain":[-40,40],"range":[-4.4,75.6]}},"y":{"field":"value","type":"quantitative"},"shape":{"field":"group","type":"nominal","scale":{"domain":["Ctrl","SSR3i"],"range":["circle","square"]},"legend":null}}},{"data":{"values":[{"bracket":"10","pulse":"10","group":"Ctrl","y":1.4,"step":1},{"bracket":"10","pulse":"10","group":"Ctrl","y":1.72,"step":2},{"bracket":"10","pulse":"10","group":"SSR3i","y":1.72,"step":3},{"bracket":"10","pulse":"10","group":"SSR3i","y":1.4,"step":4},{"bracket":"20","pulse":"20","group":"Ctrl","y":3.23,"step":1},{"bracket":"20","pulse":"20","group":"Ctrl","y":3.52,"step":2},{"bracket":"20","pulse":"20","group":"SSR3i","y":3.52,"step":3},{"bracket":"20","pulse":"20","group":"SSR3i","y":2.99,"step":4},{"bracket":"30","pulse":"30","group":"Ctrl","y":5.9,"step":1},{"bracket":"30","pulse":"30","group":"Ctrl","y":6.18,"step":2},{"bracket":"30","pulse":"30","group":"SSR3i","y":6.18,"step":3},{"bracket":"30","pulse":"30","group":"SSR3i","y":3.06,"step":4}]},"mark":{"type":"line","color":"#111","strokeWidth":1.8,"strokeJoin":"miter"},"encoding":{"x":{"field":"pulse","type":"nominal"},"xOffset":{"field":"group","type":"nominal"},"y":{"field":"y","type":"quantitative"},"detail":{"field":"bracket"},"order":{"field":"step"}}},{"data":{"values":[{"pulse":"10","group":"Ctrl","y":2.1,"star":"*"},{"pulse":"20","group":"Ctrl","y":3.91,"star":"*"},{"pulse":"30","group":"Ctrl","y":6.61,"star":"*"}]},"mark":{"type":"text","font":"Liberation Sans","fontSize":32,"dx":0,"dy":5},"encoding":{"x":{"field":"pulse","type":"nominal"},"xOffset":{"field":"group","type":"nominal"},"y":{"field":"y","type":"quantitative"},"text":{"field":"star"}}},{"data":{"values":[{"pulse":"20","y":6.45,"note":"Pulse-chase"}]},"mark":{"type":"text","font":"Lato","fontSize":14.5,"dx":-10},"encoding":{"x":{"field":"pulse","type":"nominal"},"y":{"field":"y","type":"quantitative"},"text":{"field":"note"}}}],"resolve":{"scale":{"xOffset":"independent"}}}]}]}
